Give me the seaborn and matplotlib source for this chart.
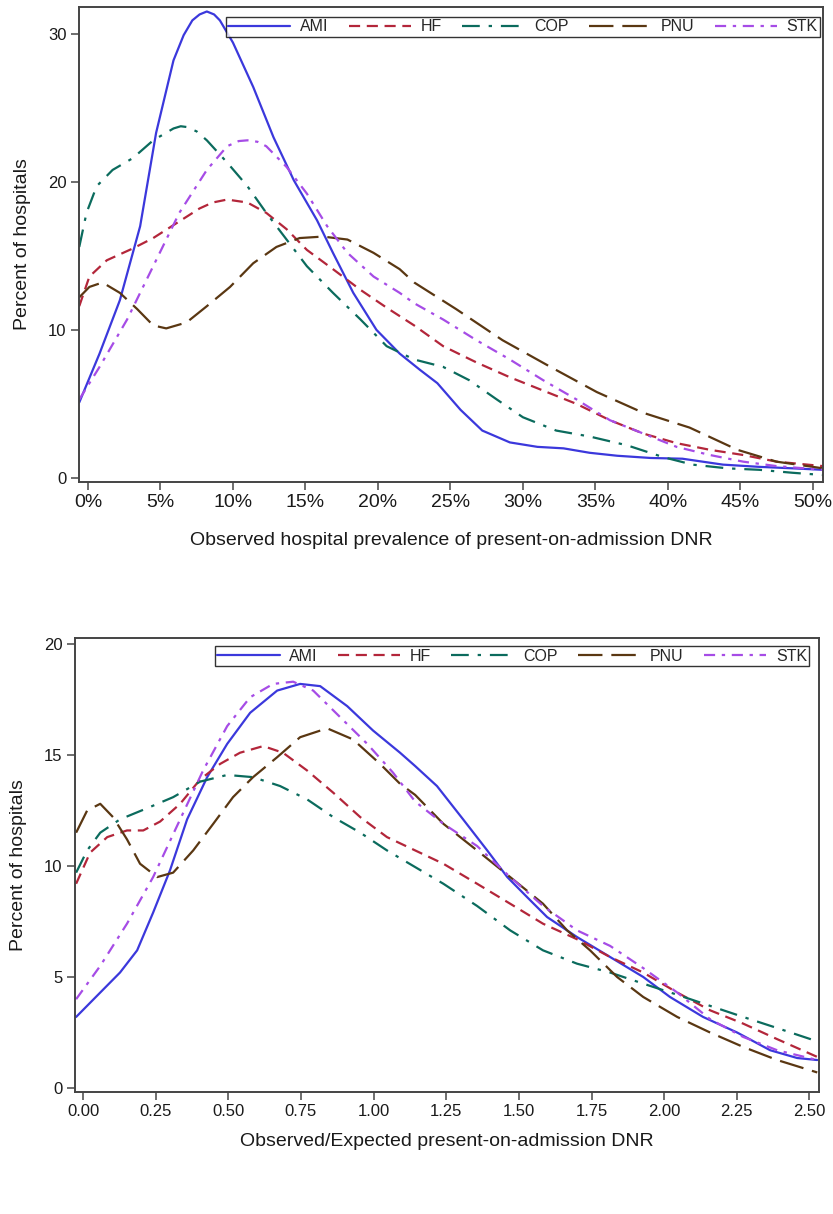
import matplotlib
matplotlib.use("Agg")
import matplotlib.pyplot as plt
import seaborn as sns
import pandas as pd

# Series names and colours
groups = ["AMI", "HF", "COP", "PNU", "STK"]
colors = ["#3b38dc", "#b3263a", "#0b6b5d", "#5a3712", "#a64ce6"]

# TOP PANEL: observed hospital prevalence (%) vs percent of hospitals
ami_x1 = [-0.6, 0.8, 2.2, 3.6, 4.7, 5.9, 6.6, 7.2, 7.7, 8.2, 8.7, 9.1, 10.0, 11.4, 12.8, 14.2, 15.8, 16.9, 18.3,
          19.9, 21.5, 22.9, 24.1, 25.7, 27.2, 29.1, 31.0, 32.8, 34.6, 36.5, 38.8, 41.0, 42.4, 43.8, 46.3,
          48.6, 50.7]
ami_y1 = [5.1, 8.4, 12.0, 17.0, 23.3, 28.2, 29.9, 30.9, 31.3, 31.5, 31.3, 30.9, 29.4, 26.4, 23.0, 20.1, 17.4,
          15.2, 12.5, 10.0, 8.4, 7.3, 6.4, 4.6, 3.2, 2.4, 2.1, 2.0, 1.7, 1.5, 1.35, 1.3, 1.1, 0.9, 0.75,
          0.65, 0.55]
hf_x1 = [-0.6, 0.1, 1.3, 3.1, 4.5, 6.1, 7.7, 8.6, 9.6, 11.0, 12.3, 13.7, 15.1, 16.9, 18.8, 20.6, 22.5,
         24.5, 26.8, 29.1, 31.4, 33.7, 36.0, 38.3, 40.6, 42.9, 45.2, 47.5, 50.7]
hf_y1 = [11.6, 13.6, 14.7, 15.5, 16.2, 17.2, 18.2, 18.6, 18.8, 18.6, 17.9, 16.8, 15.4, 14.1, 12.7, 11.5,
         10.3, 8.9, 7.8, 6.8, 5.9, 5.0, 3.9, 3.0, 2.35, 1.9, 1.55, 1.1, 0.8]
cop_x1 = [-0.6, -0.1, 0.6, 1.7, 3.1, 4.5, 5.9, 6.4, 6.8, 7.5, 8.2, 9.6, 11.0, 12.3, 13.7, 15.1, 16.9, 18.8,
          20.6, 22.5, 24.5, 26.3, 28.2, 30.0, 32.3, 34.6, 37.2, 39.7, 41.7, 44.1, 46.3, 48.6, 50.7]
cop_y1 = [15.6, 17.9, 19.7, 20.8, 21.6, 22.8, 23.6, 23.75, 23.7, 23.4, 22.8, 21.3, 19.7, 17.9, 16.1, 14.3,
          12.5, 10.7, 8.9, 8.0, 7.5, 6.6, 5.3, 4.1, 3.2, 2.8, 2.2, 1.4, 0.9, 0.65, 0.55, 0.35, 0.2]
pnu_x1 = [-0.6, 0.1, 1.0, 2.2, 3.4, 4.5, 5.4, 6.8, 8.2, 9.8, 11.4, 13.0, 14.6, 16.2, 17.9, 19.7, 21.5,
          22.5, 25.4, 28.6, 31.9, 35.1, 38.3, 41.5, 44.8, 47.5, 50.7]
pnu_y1 = [12.2, 12.9, 13.2, 12.5, 11.4, 10.3, 10.1, 10.5, 11.6, 12.9, 14.5, 15.6, 16.2, 16.3, 16.1, 15.2, 14.1,
          13.2, 11.4, 9.3, 7.5, 5.8, 4.4, 3.4, 1.9, 1.1, 0.65]
stk_x1 = [-0.6, 0.8, 2.7, 4.5, 6.3, 8.2, 9.6, 10.4, 11.0, 11.7, 12.3, 13.7, 15.1, 16.5, 17.9, 19.7, 21.5, 22.5,
          24.5, 26.8, 29.1, 31.4, 33.7, 36.0, 38.3, 40.6, 42.9, 45.2, 47.5, 50.7]
stk_y1 = [5.3, 7.5, 10.7, 14.3, 17.9, 20.8, 22.4, 22.75, 22.8, 22.7, 22.4, 21.0, 19.2, 17.0, 15.2, 13.6, 12.5,
          11.8, 10.7, 9.3, 8.0, 6.6, 5.3, 3.9, 3.0, 2.1, 1.55, 1.1, 0.8, 0.55]

# BOTTOM PANEL: observed/expected ratio vs percent of hospitals
ami_x2 = [-0.024, 0.059, 0.127, 0.186, 0.241, 0.299, 0.358, 0.427, 0.496, 0.575, 0.668, 0.747, 0.816, 0.909,
          0.998, 1.091, 1.143, 1.218, 1.308, 1.391, 1.46, 1.528, 1.597, 1.70, 1.814, 1.928, 2.02, 2.134,
          2.251, 2.365, 2.458, 2.527]
ami_y2 = [3.2, 4.3, 5.2, 6.2, 7.9, 9.8, 12.1, 14.0, 15.5, 16.9, 17.9, 18.2, 18.1, 17.2,
          16.1, 15.1, 14.5, 13.6, 12.1, 10.7, 9.5, 8.6, 7.7, 6.8, 5.9, 5.0, 4.1, 3.2,
          2.5, 1.7, 1.35, 1.26]
hf_x2 = [-0.024, 0.024, 0.083, 0.151, 0.207, 0.265, 0.334, 0.403, 0.472, 0.540, 0.62, 0.688, 0.771, 0.861,
         0.954, 1.046, 1.143, 1.24, 1.356, 1.47, 1.583, 1.70, 1.814, 1.928, 2.045, 2.158, 2.272, 2.389, 2.527]
hf_y2 = [9.2, 10.6, 11.3, 11.6, 11.6, 12.0, 12.8, 13.9, 14.6, 15.1, 15.4, 15.1, 14.3, 13.3,
         12.2, 11.3, 10.7, 10.1, 9.2, 8.3, 7.4, 6.7, 5.9, 5.2, 4.3, 3.5, 2.9, 2.2, 1.4]
cop_x2 = [-0.024, 0.014, 0.059, 0.127, 0.22, 0.31, 0.403, 0.496, 0.585, 0.678, 0.771, 0.861, 0.954, 1.046,
          1.143, 1.24, 1.356, 1.47, 1.583, 1.70, 1.814, 1.928, 2.045, 2.158, 2.272, 2.389, 2.527]
cop_y2 = [9.7, 10.7, 11.5, 12.1, 12.6, 13.1, 13.8, 14.1, 14.0, 13.6, 13.0, 12.2, 11.5, 10.7,
          9.95, 9.2, 8.2, 7.1, 6.2, 5.6, 5.2, 4.7, 4.2, 3.7, 3.2, 2.7, 2.1]
pnu_x2 = [-0.024, 0.014, 0.059, 0.103, 0.151, 0.196, 0.255, 0.31, 0.379, 0.448, 0.516, 0.585, 0.668, 0.747,
          0.84, 0.929, 1.022, 1.091, 1.143, 1.24, 1.356, 1.47, 1.583, 1.666, 1.745, 1.838, 1.928, 2.045,
          2.158, 2.272, 2.389, 2.527]
pnu_y2 = [11.5, 12.5, 12.8, 12.2, 11.2, 10.1, 9.5, 9.7, 10.7, 11.9, 13.1, 14.0, 14.9, 15.8,
          16.2, 15.7, 14.6, 13.7, 13.2, 11.9, 10.7, 9.5, 8.3, 7.1, 6.2, 5.0, 4.1, 3.2,
          2.5, 1.85, 1.26, 0.7]
stk_x2 = [-0.024, 0.059, 0.151, 0.241, 0.334, 0.413, 0.496, 0.575, 0.654, 0.723, 0.792, 0.885, 0.978, 1.067,
          1.143, 1.24, 1.356, 1.47, 1.583, 1.70, 1.814, 1.928, 2.045, 2.158, 2.272, 2.389, 2.527]
stk_y2 = [4.0, 5.5, 7.4, 9.5, 12.1, 14.3, 16.3, 17.6, 18.2, 18.3, 17.9, 16.7, 15.5, 14.2,
          12.9, 11.9, 10.9, 9.5, 8.2, 7.1, 6.4, 5.4, 4.3, 3.1, 2.3, 1.7, 1.26]

top_x = [ami_x1, hf_x1, cop_x1, pnu_x1, stk_x1]
top_y = [ami_y1, hf_y1, cop_y1, pnu_y1, stk_y1]
bot_x = [ami_x2, hf_x2, cop_x2, pnu_x2, stk_x2]
bot_y = [ami_y2, hf_y2, cop_y2, pnu_y2, stk_y2]

top_xticks = [0, 5, 10, 15, 20, 25, 30, 35, 40, 45, 50]
top_yticks = [0, 10, 20, 30]
bot_xticks = [0, 0.25, 0.5, 0.75, 1.0, 1.25, 1.5, 1.75, 2.0, 2.25, 2.5]
bot_yticks = [0, 5, 10, 15, 20]


def make_long(xs, ys):
    frames = []
    for name, x, y in zip(groups, xs, ys):
        frames.append(pd.DataFrame({"x": x, "y": y, "group": name}))
    return pd.concat(frames, ignore_index=True)


sns.set_style("white")
plt.rcParams["font.family"] = ["Liberation Sans", "DejaVu Sans"]

palette = dict(zip(groups, colors))
dashes = {"AMI": "", "HF": (5, 3), "COP": (8, 4, 1.5, 4), "PNU": (11, 4), "STK": (5, 3, 1.5, 3)}

fig = plt.figure(figsize=(8.33, 12.14), dpi=100)
ax1 = fig.add_axes([0.0948, 0.6030, 0.8932, 0.3912])
ax2 = fig.add_axes([0.0900, 0.1005, 0.8932, 0.3740])


def draw_panel(ax, df, xlim, ylim, xticks, yticks, fmt, xlabel, tick_fs, xpad, leg_anchor, colsp):
    sns.lineplot(data=df, x="x", y="y", hue="group", style="group", palette=palette,
                 dashes=dashes, linewidth=1.6, sort=True, estimator=None, legend=False, ax=ax)
    for ln in ax.get_lines():
        ln.set_solid_joinstyle("round")
        ln.set_dash_joinstyle("round")
    ax.set_xlim(*xlim)
    ax.set_ylim(*ylim)
    ax.set_xticks(xticks)
    ax.set_xticklabels([fmt(v) for v in xticks], fontsize=tick_fs, color="#1a1a1a")
    ax.set_yticks(yticks)
    ax.set_yticklabels([str(v) for v in yticks], fontsize=12, color="#1a1a1a")
    ax.tick_params(direction="out", length=6, width=1.2, color="#555555", bottom=True, left=True, pad=3)
    for sp in ax.spines.values():
        sp.set_color("#444444")
        sp.set_linewidth(1.4)
    ax.set_xlabel(xlabel, fontsize=14, color="#1a1a1a", labelpad=xpad)
    ax.set_ylabel("Percent of hospitals", fontsize=14, color="#1a1a1a", labelpad=12)
    handles = ax.get_lines()[:5]
    leg = ax.legend(handles, groups, loc="upper right", bbox_to_anchor=leg_anchor,
                    ncol=5, fontsize=11.5, handlelength=3.9, handletextpad=0.6, columnspacing=colsp,
                    borderpad=0.15, borderaxespad=0.0, frameon=True, fancybox=False)
    leg.get_frame().set_edgecolor("black")
    leg.get_frame().set_linewidth(1.0)


draw_panel(ax1, make_long(top_x, top_y), (-0.62, 50.7), (-0.27, 31.8), top_xticks, top_yticks,
           lambda v: f"{v:.0f}%", "Observed hospital prevalence of present-on-admission DNR", 14, 15,
           (0.996, 0.979), 1.27)
draw_panel(ax2, make_long(bot_x, bot_y), (-0.028, 2.533), (-0.18, 20.27), bot_xticks, bot_yticks,
           lambda v: f"{v:.2f}", "Observed/Expected present-on-admission DNR", 12, 10,
           (0.987, 0.982), 1.27)

fig.savefig("out.png", dpi=100)
